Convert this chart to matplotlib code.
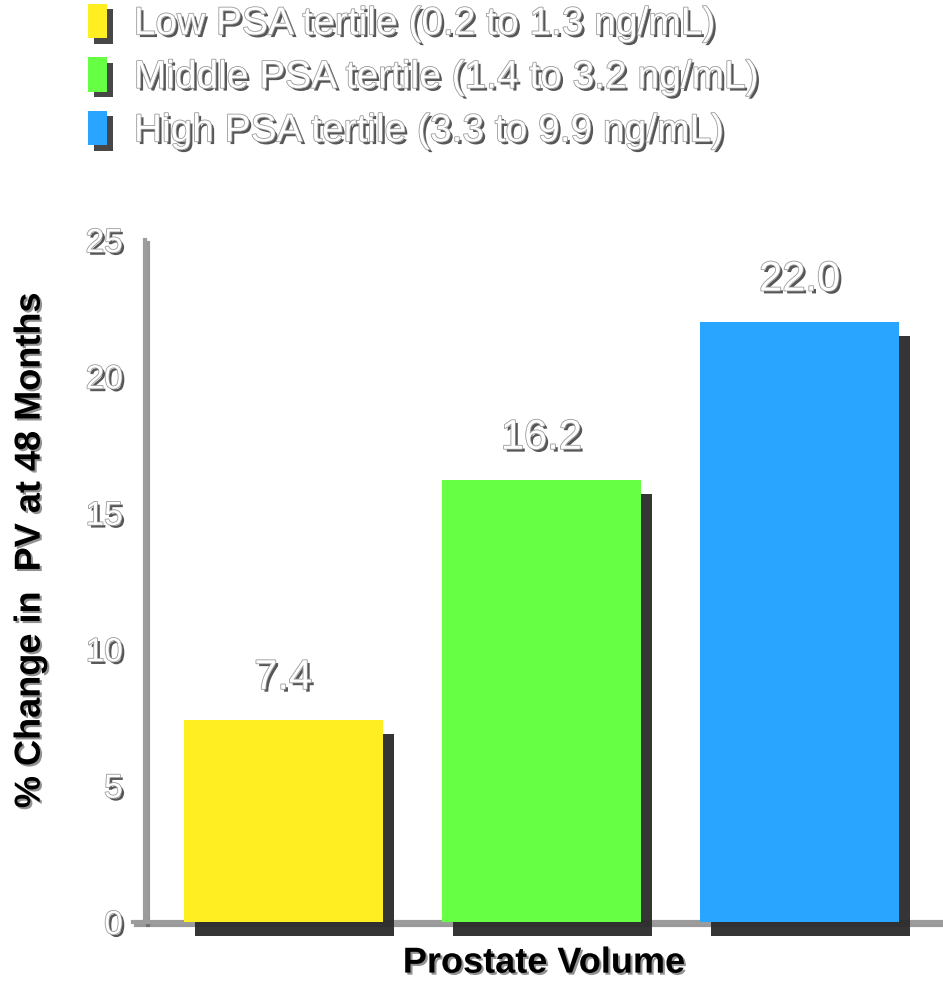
import matplotlib.pyplot as plt
import matplotlib.patheffects as pe
from matplotlib.patches import Patch

# data
groups = ['Low PSA tertile (0.2 to 1.3 ng/mL)',
          'Middle PSA tertile (1.4 to 3.2 ng/mL)',
          'High PSA tertile (3.3 to 9.9 ng/mL)']
values = [7.4, 16.2, 22.0]
colors = ['#FFEE22', '#66FF44', '#29A5FF']
yticks = [0, 5, 10, 15, 20, 25]

plt.rcParams['font.family'] = ['Liberation Sans', 'DejaVu Sans']

# embossed white text: dark drop shadow + grey rim
emboss = [pe.SimplePatchShadow(offset=(2, -2), shadow_rgbFace='#444444', alpha=0.9),
          pe.Stroke(linewidth=1.2, foreground='#9a9a9a'),
          pe.Normal()]
bar_shadow = [pe.SimplePatchShadow(offset=(8, -10), shadow_rgbFace='#2a2a2a', alpha=0.95),
              pe.Normal()]
black_soft = [pe.SimplePatchShadow(offset=(1.5, -1.5), shadow_rgbFace='#777777', alpha=0.8),
              pe.Normal()]

fig = plt.figure(figsize=(9.43, 9.82), dpi=100)
ax = fig.add_axes([145 / 943, 60 / 982, 798 / 943, 682 / 982])

x = range(len(values))
bars = ax.bar(x, values, width=0.77, color=colors, zorder=3, clip_on=False)
for b in bars:
    b.set_path_effects(bar_shadow)

for xi, v in zip(x, values):
    ax.annotate(f'{v:.1f}', (xi, v), xytext=(0, 16), textcoords='offset points',
                ha='center', va='bottom', fontsize=30, color='white',
                path_effects=emboss)

ax.set_xlim(-0.535, 2.555)
ax.set_ylim(0, 25)
ax.set_xticks([])
ax.set_yticks(yticks)
ax.tick_params(axis='y', length=0, pad=16, labelsize=24, labelcolor='white')
for t in ax.get_yticklabels():
    t.set_path_effects(emboss)

for s in ['top', 'right']:
    ax.spines[s].set_visible(False)
for s in ['left', 'bottom']:
    ax.spines[s].set_color('#9c9c9c')
    ax.spines[s].set_linewidth(3)
    ax.spines[s].set_path_effects([pe.SimpleLineShadow(offset=(2, -2), shadow_color='#555555', alpha=0.6),
                                   pe.Normal()])
ax.spines['bottom'].set_bounds(-0.58, 2.555)

ax.set_xlabel('Prostate Volume', fontsize=26, fontweight='bold', labelpad=17,
              path_effects=black_soft)
ax.set_ylabel('% Change in  PV at 48 Months', fontsize=26, fontweight='bold',
              path_effects=black_soft)
ax.yaxis.set_label_coords(-0.122, 0.545)

handles = [Patch(facecolor=c, path_effects=[pe.SimplePatchShadow(offset=(4, -4), shadow_rgbFace='#333333', alpha=0.9), pe.Normal()])
           for c in colors]
leg = fig.legend(handles, groups, loc='upper left', bbox_to_anchor=(53 / 943, 1.032),
                 frameon=False, fontsize=28, handlelength=0.5, handleheight=1.0,
                 handletextpad=0.68, labelspacing=0.38)
for t in leg.get_texts():
    t.set_color('white')
    t.set_path_effects(emboss)

fig.savefig('out.png', dpi=100)
